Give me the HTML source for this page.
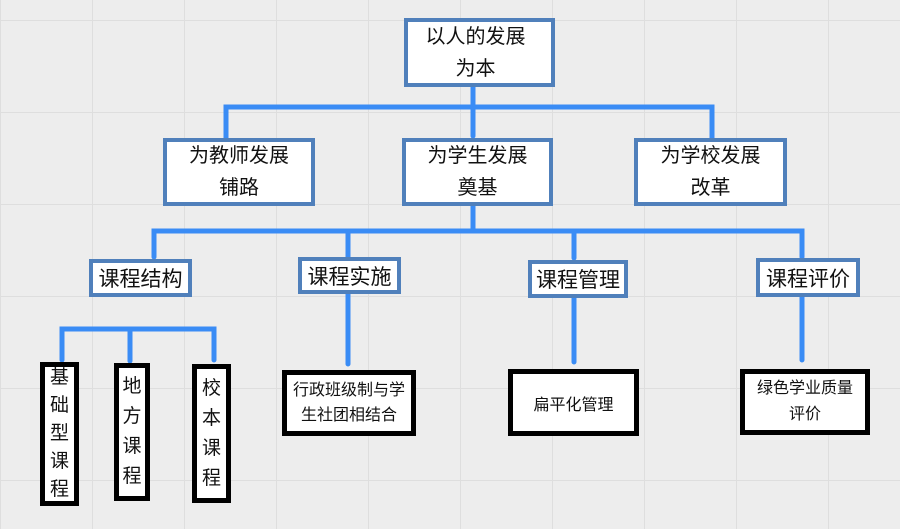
<!DOCTYPE html>
<html><head><meta charset="utf-8"><style>
body{margin:0;width:900px;height:529px;overflow:hidden;background:#ededed;
background-image:linear-gradient(to right,#dedede 1px,transparent 1px),linear-gradient(to bottom,#dedede 1px,transparent 1px);
background-size:92px 92px;background-position:0 20px;position:relative;
font-family:"Liberation Sans","Noto Sans CJK SC",sans-serif;color:#111}
.b{position:absolute;box-sizing:border-box;background:#fff;display:flex;align-items:center;justify-content:center;text-align:center}
.u{border:4px solid #5080bb}
.k{border:5px solid #000}
svg{position:absolute;left:0;top:0}
</style></head><body>
<svg width="900" height="529"><g stroke="#3a8cf5" stroke-width="5" fill="none" stroke-linecap="round">
<path d="M473 87V136M226 138V107H712V138"/>
<path d="M473 206V231M154 257V231H802V257M348 231V257M574 231V258"/>
<path d="M62 360V329H214V360M130 329V361"/>
<path d="M348 294V364M574 298V362M802 297V360"/>
</g></svg>
<div class="b u" style="left:404px;top:18px;width:151px;height:69px;font-size:20px;line-height:32px;padding-right:8px">以人的发展<br>为本</div>
<div class="b u" style="left:163px;top:138px;width:152px;height:68px;font-size:20px;line-height:32px">为教师发展<br>铺路</div>
<div class="b u" style="left:402px;top:138px;width:151px;height:68px;font-size:20px;line-height:32px">为学生发展<br>奠基</div>
<div class="b u" style="left:634px;top:138px;width:153px;height:68px;font-size:20px;line-height:32px">为学校发展<br>改革</div>
<div class="b u" style="left:89px;top:259px;width:103px;height:38px;font-size:21px">课程结构</div>
<div class="b u" style="left:298px;top:257px;width:103px;height:37px;font-size:21px">课程实施</div>
<div class="b u" style="left:528px;top:260px;width:100px;height:38px;font-size:21px">课程管理</div>
<div class="b u" style="left:756px;top:258px;width:104px;height:39px;font-size:21px">课程评价</div>
<div class="b k" style="left:40px;top:362px;width:39px;height:144px;font-size:19px;line-height:28px">基<br>础<br>型<br>课<br>程</div>
<div class="b k" style="left:114px;top:363px;width:36px;height:138px;font-size:19px;line-height:30px">地<br>方<br>课<br>程</div>
<div class="b k" style="left:192px;top:364px;width:39px;height:139px;font-size:19px;line-height:30px">校<br>本<br>课<br>程</div>
<div class="b k" style="left:282px;top:370px;width:134px;height:66px;font-size:16px;line-height:25px">行政班级制与学<br>生社团相结合</div>
<div class="b k" style="left:508px;top:369px;width:131px;height:67px;font-size:16px">扁平化管理</div>
<div class="b k" style="left:740px;top:369px;width:130px;height:66px;font-size:16px;line-height:26px">绿色学业质量<br>评价</div>
</body></html>
